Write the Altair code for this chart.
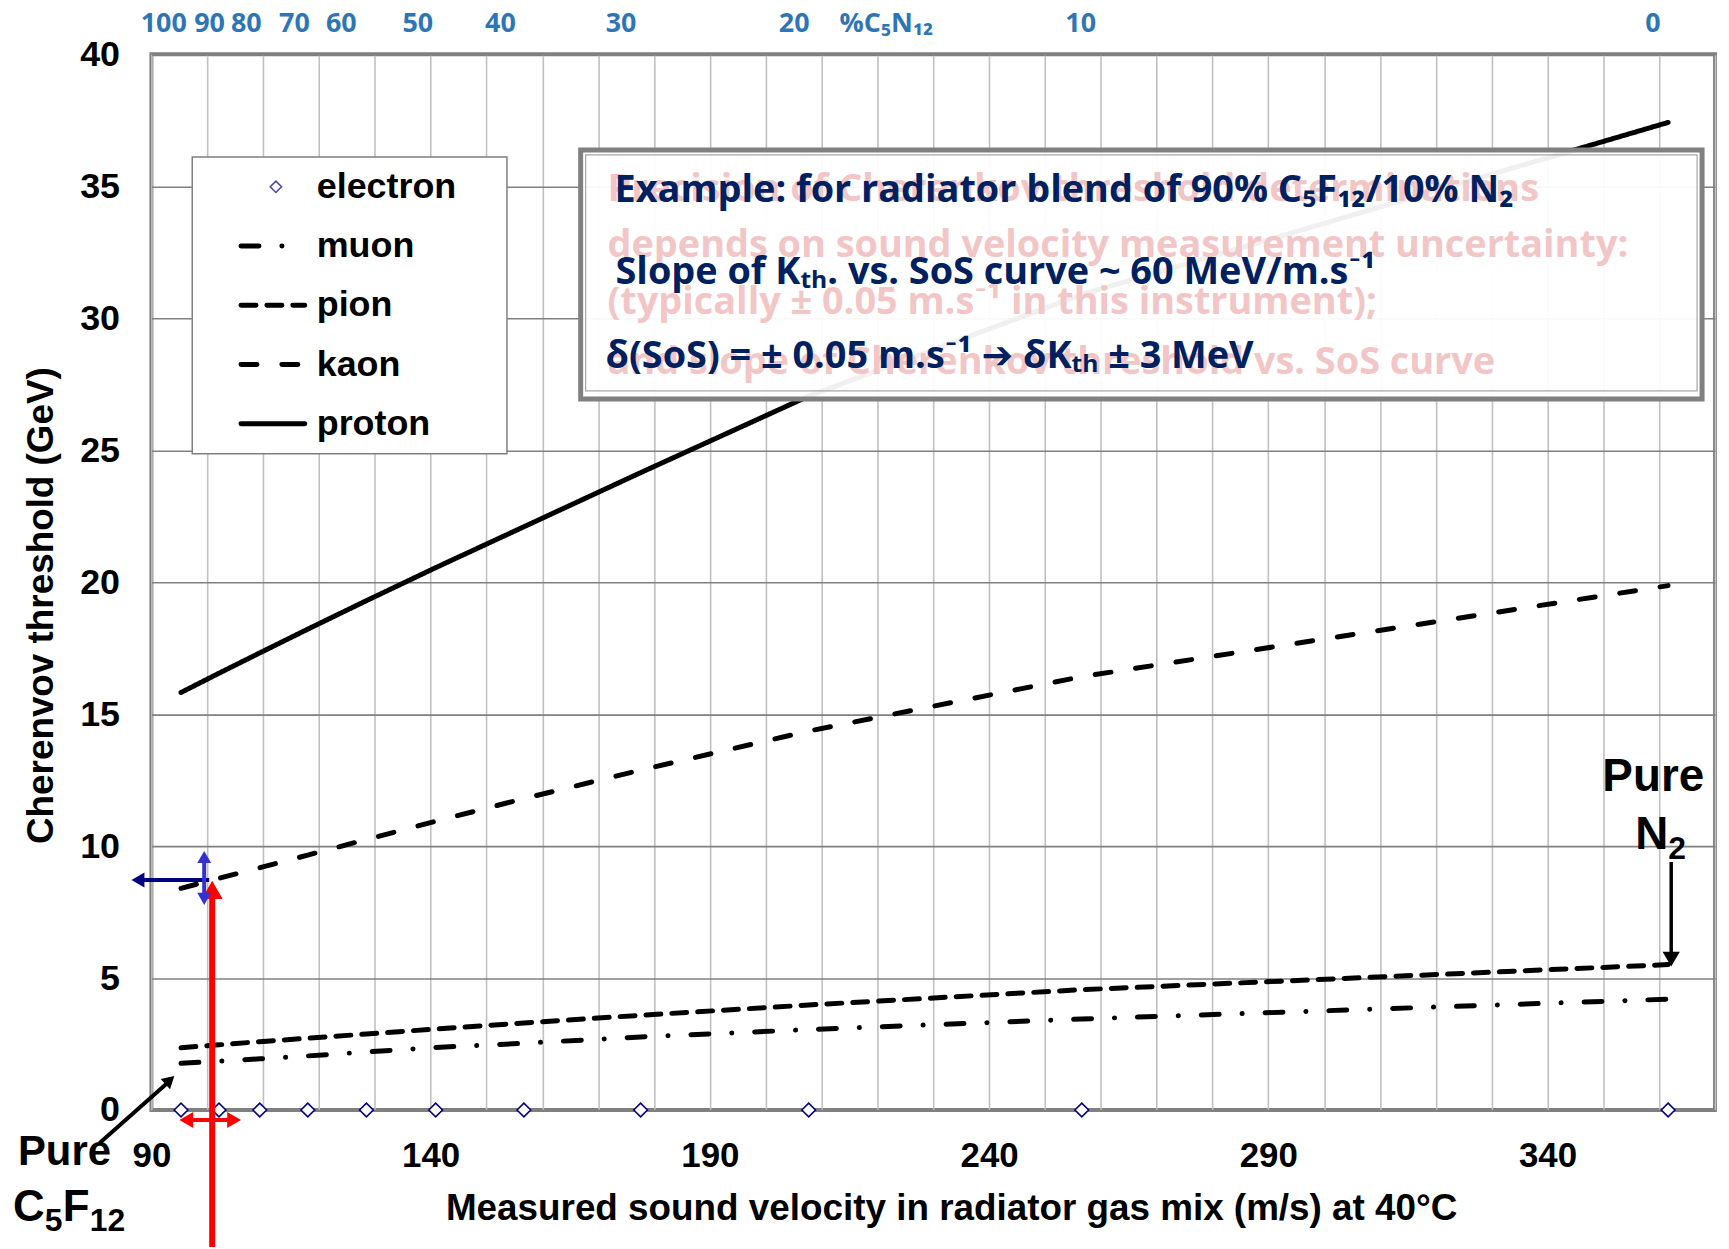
import altair as alt
import pandas as pd

# ---------------- data ----------------
sos = [95.3, 102.1, 109.4, 118.0, 128.5, 140.9, 156.7, 177.6, 207.7, 256.6, 361.6]
c5f12_pct = [100, 90, 80, 70, 60, 50, 40, 30, 20, 10, 0]
electron = [0, 0, 0, 0, 0, 0, 0, 0, 0, 0, 0]
muon = [1.77, 1.85, 1.94, 2.05, 2.20, 2.37, 2.53, 2.77, 3.05, 3.45, 4.20]
pion = [2.36, 2.47, 2.59, 2.72, 2.88, 3.07, 3.30, 3.59, 3.98, 4.56, 5.51]
kaon = [8.40, 8.78, 9.18, 9.66, 10.25, 10.94, 11.80, 12.88, 14.36, 16.42, 19.87]
proton = [15.82, 16.55, 17.32, 18.22, 19.30, 20.55, 22.10, 24.15, 27.05, 30.90, 37.42]

particles = ["electron", "muon", "pion", "kaon", "proton"]
line_particles = ["muon", "pion", "kaon", "proton"]

top_labels = ["100", "90", "80", "70", "60", "50", "40", "30", "20", "10", "0"]
top_label_sos = [92.2, 100.4, 107.0, 115.6, 124.0, 137.7, 152.5, 174.1, 205.1, 256.4, 358.9]
top_axis_name = "%C\u2085N\u2081\u2082"
top_axis_name_sos = 221.6

x_title = "Measured sound velocity in radiator gas mix (m/s) at 40°C"
y_title = "Cherenvov threshold (GeV)"

box_lines = [
    "Example: for radiator blend of 90% C\u2085F\u2081\u2082/10% N\u2082",
    " Slope of K\u209c\u2095. vs. SoS curve ~ 60 MeV/m.s\u207b\u00b9",
    "\u03b4(SoS) = \u00b1  0.05 m.s\u207b\u00b9 \u2794 \u03b4K\u209c\u2095 \u00b1 3 MeV",
]
ghost_lines = [
    "Precision of Cherenkov threshold determinations",
    "depends on sound velocity measurement uncertainty:",
    "(typically \u00b1 0.05 m.s\u207b\u00b9  in this instrument);",
    "and slope of Cherenkov threshold vs. SoS curve",
]

# ---------------- layout / style ----------------
W, H = 1570, 1060
ARIAL = "Liberation Sans, Arial, DejaVu Sans"
CAL = "Open Sans, Lato, DejaVu Sans"
NAVY_TXT = "#002060"
BLUE_TOP = "#2E75B6"
DASHES = {"muon": [18, 23, 0.1, 23], "pion": [15, 11], "kaon": [16, 25], "proton": [1, 0]}

rows = []
for name, vals in zip(line_particles, [muon, pion, kaon, proton]):
    for s, v in zip(sos, vals):
        rows.append({"particle": name, "sos": s, "kth": v})
lines_df = pd.DataFrame(rows)
elec_df = pd.DataFrame({"sos": sos, "kth": electron, "pct": c5f12_pct})

xscale = alt.Scale(domain=[90, 370], nice=False, zero=False)
yscale = alt.Scale(domain=[0, 40], nice=False, zero=False)
dash_scale = alt.Scale(domain=line_particles, range=[DASHES[p] for p in line_particles])
width_scale = alt.Scale(domain=line_particles, range=[5, 5, 5, 4])

x_axis = alt.Axis(
    values=list(range(90, 371, 10)),
    labelExpr="(datum.value - 90) % 50 === 0 ? datum.label : ''",
    labelOverlap=False, labelFlush=False, labelFontSize=35, labelPadding=29,
    grid=True, gridColor="#c0c0c0", gridWidth=1.6,
    title=x_title, titleFontSize=37, titleX=803, titleY=110,
    titleBaseline="alphabetic", titleAlign="center",
)
y_axis = alt.Axis(
    values=list(range(0, 41, 5)), labelFontSize=36, labelPadding=32, labelFlush=False,
    grid=True, gridColor="#808080", gridWidth=1.6,
    title=y_title, titleFontSize=37, titleX=-110, titleY=553,
    titleAngle=270, titleBaseline="middle", titleAlign="center",
)

lines = alt.Chart(lines_df).mark_line(strokeCap="round", color="black").encode(
    x=alt.X("sos:Q", scale=xscale, axis=x_axis),
    y=alt.Y("kth:Q", scale=yscale, axis=y_axis),
    strokeDash=alt.StrokeDash("particle:N", scale=dash_scale, legend=None),
    strokeWidth=alt.StrokeWidth("particle:N", scale=width_scale, legend=None),
    detail="particle:N",
)

elec_pts = alt.Chart(elec_df).mark_point(
    shape="diamond", size=190, filled=False, stroke="#000080", strokeWidth=1.6,
    fill="white", fillOpacity=1, opacity=1,
).encode(
    x=alt.X("sos:Q", scale=xscale),
    y=alt.Y("kth:Q", scale=yscale),
)

# top percentage labels
top_df = pd.DataFrame({"sos": top_label_sos + [top_axis_name_sos],
                       "label": top_labels + [top_axis_name]})
top_text = alt.Chart(top_df).mark_text(
    font=CAL, fontSize=27, fontWeight="bold", color=BLUE_TOP, baseline="middle", align="center"
).encode(
    x=alt.X("sos:Q", scale=xscale),
    y=alt.value(-30),
    text="label:N",
)

one = pd.DataFrame({"k": [0]})


def txt(t, x, y, font, size, color, align="left", baseline="alphabetic", weight="bold"):
    return alt.Chart(pd.DataFrame({"t": [t]})).mark_text(
        font=font, fontSize=size, fontWeight=weight, color=color, align=align, baseline=baseline
    ).encode(x=alt.value(x), y=alt.value(y), text="t:N")


def rule(x, y, x2, y2, color, width, dash=None, cap="butt"):
    kw = {"color": color, "strokeWidth": width, "strokeCap": cap}
    if dash is not None:
        kw["strokeDash"] = dash
    return alt.Chart(one).mark_rule(**kw).encode(
        x=alt.value(x), y=alt.value(y), x2=alt.value(x2), y2=alt.value(y2))


def head(x, y, angle, size, color):
    return alt.Chart(one).mark_point(
        shape="triangle-up", filled=True, opacity=1, color=color, size=size, angle=angle
    ).encode(x=alt.value(x), y=alt.value(y))


layers = [lines, elec_pts, top_text]

# legend (custom, drawn in the plot frame)
layers.append(alt.Chart(one).mark_rect(fill="white", stroke="#7f7f7f", strokeWidth=1.5).encode(
    x=alt.value(41), x2=alt.value(357), y=alt.value(103), y2=alt.value(401)))
for i, p in enumerate(particles):
    ly = 133 + 59.5 * i
    if p == "electron":
        layers.append(alt.Chart(one).mark_point(
            shape="diamond", size=130, filled=False, stroke="#000080", strokeWidth=1.6
        ).encode(x=alt.value(125), y=alt.value(ly)))
    else:
        layers.append(rule(90, ly, 154, ly, "black", 5, dash=DASHES[p], cap="round"))
    layers.append(txt(p, 166, ly, ARIAL, 36, "black", baseline="middle"))

# annotation box
layers.append(alt.Chart(one).mark_rect(fill="white", fillOpacity=0.94, stroke="#808080", strokeWidth=5).encode(
    x=alt.value(431), x2=alt.value(1557), y=alt.value(96), y2=alt.value(346)))
layers.append(alt.Chart(one).mark_rect(fill="white", fillOpacity=0, stroke="#a6a6a6", strokeWidth=1.2).encode(
    x=alt.value(436), x2=alt.value(1552), y=alt.value(101), y2=alt.value(338)))
for t, y in zip(ghost_lines, [147, 203, 261, 321]):
    layers.append(txt(t, 458, y, CAL, 38, "#f2c6c6"))
for t, x, y in zip(box_lines, [465, 466, 456], [148, 231, 315]):
    layers.append(txt(t, x, y, CAL, 38, NAVY_TXT))

# arrows
layers += [
    rule(61, 845, 61, 1200, "#ff0000", 6),
    head(61, 839, 0, 441, "#ff0000"),
    rule(-10, 829, 58, 829, "#000080", 4),
    head(-13.5, 829, 270, 225, "#000080"),
    rule(53, 806, 53, 848, "#3333cc", 4),
    head(53, 806, 0, 196, "#3333cc"),
    head(53, 848, 180, 196, "#3333cc"),
    rule(35, 1070, 83, 1070, "#ff0000", 4),
    head(35, 1070, 270, 256, "#ff0000"),
    head(83, 1070, 90, 256, "#ff0000"),
    rule(-52, 1093, 18, 1031, "#000000", 4),
    head(18.5, 1030, 48, 196, "#000000"),
    rule(1526, 811, 1526, 905, "#000000", 3.5),
    head(1526, 908.5, 180, 300, "#000000"),
]

# annotation texts (chemical formulas with lowered, smaller subscripts)
layers += [
    txt("Pure", -134, 1115, ARIAL, 42, "black"),
    txt("C", -139, 1171, ARIAL, 44, "black"),
    txt("5", -107, 1181, ARIAL, 32, "black"),
    txt("F", -89, 1171, ARIAL, 44, "black"),
    txt("12", -62, 1181, ARIAL, 32, "black"),
    txt("Pure", 1508, 740, ARIAL, 46, "black", align="center"),
    txt("N", 1490, 798, ARIAL, 46, "black"),
    txt("2", 1523, 808, ARIAL, 32, "black"),
]

chart = alt.layer(*layers).properties(
    width=W, height=H,
    autosize=alt.AutoSizeParams(type="none"),
    padding={"left": 144, "top": 44, "right": 6, "bottom": 135},
    background="white",
).configure_view(
    stroke="#808080", strokeWidth=4
).configure_axis(
    domain=False, ticks=False,
    labelFont=ARIAL, labelFontWeight="bold", labelColor="black",
    titleFont=ARIAL, titleFontWeight="bold", titleColor="black",
)

chart.save("out.html", embed_options={"renderer": "svg", "actions": False})
